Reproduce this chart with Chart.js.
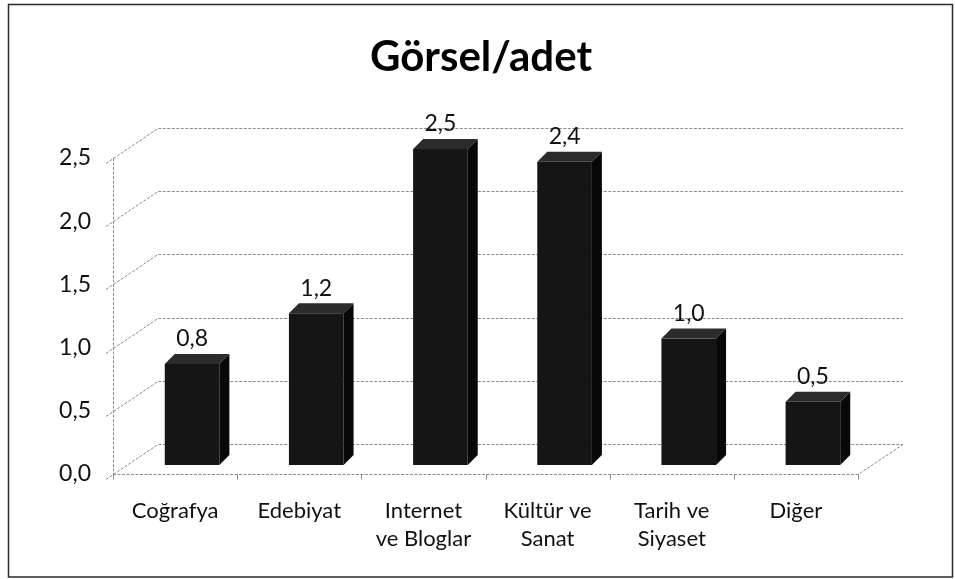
<!DOCTYPE html>
<html>
<head>
<meta charset="utf-8">
<script src="https://cdn.jsdelivr.net/npm/chart.js@4.4.1/dist/chart.umd.min.js"></script>
<style>
  html, body { margin: 0; padding: 0; background: #ffffff; }
  canvas { display: block; }
</style>
</head>
<body>
<canvas id="c" width="955" height="579"></canvas>
<script>
// ---- data ----
const categories = ["Coğrafya", "Edebiyat", ["Internet", "ve Bloglar"], ["Kültür ve", "Sanat"], ["Tarih ve", "Siyaset"], "Diğer"];
const values = [0.8, 1.2, 2.5, 2.4, 1.0, 0.5];
const yMin = 0;
const yMax = 2.5;
const yStep = 0.5;
const titleText = "Görsel/adet";

// ---- style constants ----
const FONT = "Lato, 'Open Sans', sans-serif";
const BACK_DX = 45, BACK_DY = -30;   // back wall offset (pseudo 3D)
const BAR_DX = 17, BAR_DY = -9;      // bar plane offset
const DEPTH = 10;                    // bar depth
const fmt = v => Number(v).toFixed(1).replace('.', ',');

const pseudo3d = {
  id: 'pseudo3d',
  beforeDraw(chart) {
    const ctx = chart.ctx;
    ctx.save();
    ctx.fillStyle = '#ffffff';
    ctx.fillRect(0, 0, chart.width, chart.height);
    ctx.strokeStyle = '#2a2a2a';
    ctx.lineWidth = 1.5;
    ctx.strokeRect(8.5, 4.5, 944, 572.5);
    // title
    ctx.fillStyle = '#000000';
    ctx.font = "bold 42px " + FONT;
    ctx.textAlign = 'center';
    ctx.textBaseline = 'middle';
    ctx.fillText(titleText, 481, 57);
    ctx.restore();
  },
  beforeDatasetsDraw(chart) {
    const ctx = chart.ctx;
    const ys = chart.scales.y;
    const {left, right} = chart.chartArea;
    const y0 = ys.getPixelForValue(yMin);
    const yTop = ys.getPixelForValue(yMax);
    ctx.save();
    ctx.strokeStyle = '#8c8c8c';
    ctx.lineWidth = 1;
    ctx.setLineDash([3, 1.5]);
    // grid lines: front tick -> back wall -> across
    for (let v = yMin; v <= yMax + 1e-9; v += yStep) {
      const y = Math.round(ys.getPixelForValue(v)) + 0.5;
      ctx.beginPath();
      ctx.moveTo(left - 7, y + 5);
      ctx.lineTo(left + BACK_DX, y + BACK_DY);
      ctx.lineTo(right + BACK_DX, y + BACK_DY);
      ctx.stroke();
    }
    // floor front edge and right edge
    const yf = Math.round(y0) + 0.5;
    ctx.beginPath();
    ctx.moveTo(left, yf);
    ctx.lineTo(right, yf);
    ctx.lineTo(right + BACK_DX, yf + BACK_DY);
    ctx.stroke();
    // vertical axis
    ctx.beginPath();
    ctx.moveTo(Math.round(left) + 0.5, yTop);
    ctx.lineTo(Math.round(left) + 0.5, y0 + 4);
    ctx.stroke();
    // category boundary ticks
    ctx.setLineDash([]);
    const n = categories.length;
    for (let i = 0; i <= n; i++) {
      const x = Math.round(left + (right - left) * i / n) + 0.5;
      ctx.beginPath();
      ctx.moveTo(x, yf);
      ctx.lineTo(x, yf + 5);
      ctx.stroke();
    }
    ctx.restore();
    // shift bar plane
    ctx.save();
    ctx.translate(BAR_DX, BAR_DY);
  },
  afterDatasetsDraw(chart) {
    const ctx = chart.ctx;
    const meta = chart.getDatasetMeta(0);
    meta.data.forEach((el, i) => {
      const p = el.getProps(['x', 'y', 'base', 'width'], true);
      const l = p.x - p.width / 2, r = p.x + p.width / 2;
      // side face
      ctx.fillStyle = '#080808';
      ctx.beginPath();
      ctx.moveTo(r, p.y);
      ctx.lineTo(r + DEPTH, p.y - DEPTH);
      ctx.lineTo(r + DEPTH, p.base - DEPTH);
      ctx.lineTo(r, p.base);
      ctx.closePath();
      ctx.fill();
      // top face
      ctx.fillStyle = '#2b2b2b';
      ctx.beginPath();
      ctx.moveTo(l, p.y);
      ctx.lineTo(l + DEPTH, p.y - DEPTH);
      ctx.lineTo(r + DEPTH, p.y - DEPTH);
      ctx.lineTo(r, p.y);
      ctx.closePath();
      ctx.fill();
      // value label
      ctx.fillStyle = '#111111';
      ctx.font = "23px " + FONT;
      ctx.textAlign = 'center';
      ctx.textBaseline = 'middle';
      ctx.fillText(fmt(values[i]), p.x, p.y - 25);
    });
    ctx.restore();
  }
};

new Chart(document.getElementById('c'), {
  type: 'bar',
  data: {
    labels: categories,
    datasets: [{
      data: values,
      backgroundColor: '#151515',
      borderWidth: 0,
      categoryPercentage: 1.0,
      barPercentage: 0.44,
      clip: false
    }]
  },
  options: {
    responsive: false,
    devicePixelRatio: 1,
    animation: false,
    layout: { padding: { left: 0, right: 97, top: 158, bottom: 0 } },
    plugins: {
      legend: { display: false },
      tooltip: { enabled: false },
      title: { display: false }
    },
    scales: {
      x: {
        grid: { display: false, drawTicks: false },
        border: { display: false },
        ticks: {
          color: '#111111',
          font: { family: FONT, size: 22, lineHeight: 1.27 },
          padding: 23,
          maxRotation: 0,
          autoSkip: false
        },
        afterFit(scale) { scale.height = 105; }
      },
      y: {
        min: yMin,
        max: yMax,
        grid: { display: false, drawTicks: false },
        border: { display: false },
        ticks: {
          stepSize: yStep,
          color: '#111111',
          font: { family: FONT, size: 23 },
          padding: 22,
          callback: v => fmt(v)
        },
        afterFit(scale) { scale.width = 113; }
      }
    }
  },
  plugins: [pseudo3d]
});
</script>
</body>
</html>
